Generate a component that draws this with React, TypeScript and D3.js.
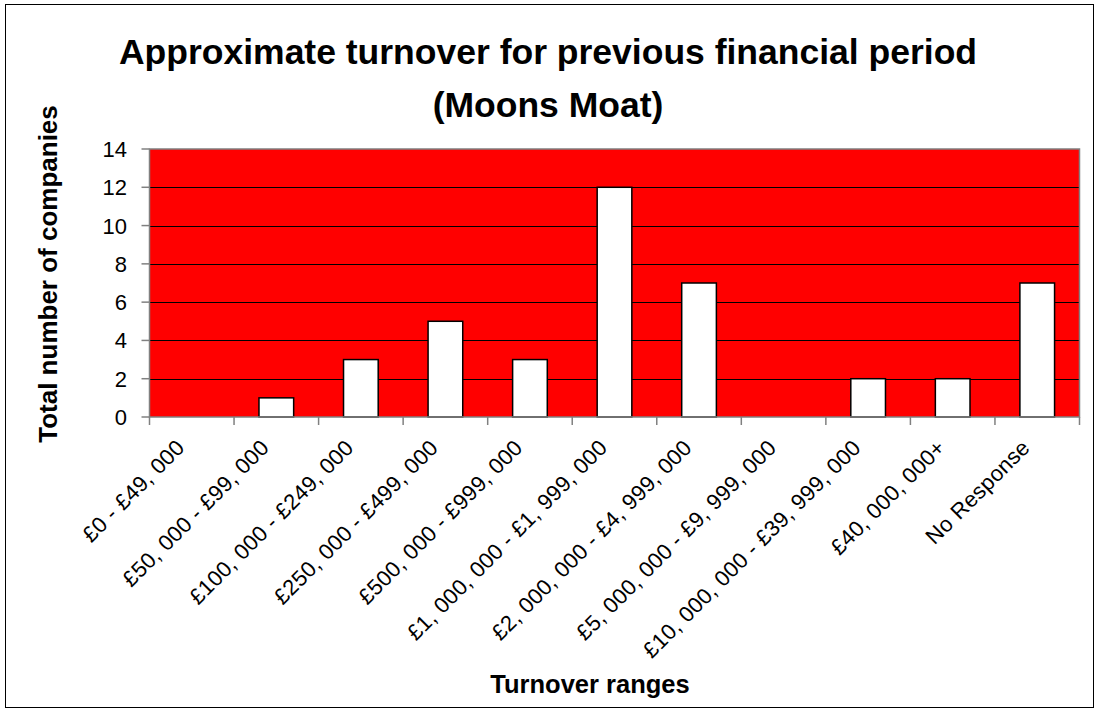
import React from 'react';
import * as d3 from 'd3';

const categories = [
  '£0 - £49, 000',
  '£50, 000 - £99, 000',
  '£100, 000 - £249, 000',
  '£250, 000 - £499, 000',
  '£500, 000 - £999, 000',
  '£1, 000, 000 - £1, 999, 000',
  '£2, 000, 000 - £4, 999, 000',
  '£5, 000, 000 - £9, 999, 000',
  '£10, 000, 000 - £39, 999, 000',
  '£40, 000, 000+',
  'No Response',
];
const counts = [0, 1, 3, 5, 3, 12, 7, 0, 2, 2, 7];
const yTicks = [0, 2, 4, 6, 8, 10, 12, 14];

const W = 1096;
const H = 709;
const font = '"Liberation Sans", Arial, sans-serif';

const App = () => {
  const left = 149.5;
  const right = 1079.5;
  const top = 149;
  const bottom = 417;

  const x = d3.scaleBand().domain(categories).range([left, right]).padding(0);
  const y = d3.scaleLinear().domain([0, 14]).range([bottom, top]);
  const barW = x.bandwidth() * 0.41;

  return (
    <svg width={W} height={H} style={{ position: 'absolute', left: 0, top: 0 }}>
      <rect x={0} y={0} width={W} height={H} fill="#fff" />
      <rect x={5.5} y={4.5} width={1088} height={703} fill="#fff" stroke="#000" strokeWidth={1} />

      <text x={548} y={64} textAnchor="middle" fontFamily={font} fontWeight="bold" fontSize={35.5}>
        Approximate turnover for previous financial period
      </text>
      <text x={548} y={117} textAnchor="middle" fontFamily={font} fontWeight="bold" fontSize={35.5}>
        (Moons Moat)
      </text>

      <rect x={left} y={top} width={right - left} height={bottom - top} fill="#ff0000" />
      {yTicks.filter(t => t > 0 && t < 14).map(t => (
        <line key={t} x1={left} x2={right} y1={Math.round(y(t)) + 0.5} y2={Math.round(y(t)) + 0.5} stroke="#000" />
      ))}

      {categories.map((c, i) => counts[i] > 0 && (
        <rect
          key={c}
          x={x(c)! + (x.bandwidth() - barW) / 2}
          y={y(counts[i])}
          width={barW}
          height={bottom - y(counts[i])}
          fill="#fff"
          stroke="#000"
          strokeWidth={1.5}
        />
      ))}

      <rect x={left} y={top} width={right - left} height={bottom - top} fill="none" stroke="#808080" strokeWidth={1.5} />

      {yTicks.map(t => (
        <g key={t}>
          <line x1={left - 8} x2={left} y1={y(t)} y2={y(t)} stroke="#808080" strokeWidth={1.5} />
          <text x={127} y={y(t) + 8} textAnchor="end" fontFamily={font} fontSize={22}>{t}</text>
        </g>
      ))}

      {[...categories.map(c => x(c)!), right].map((v, i) => (
        <line key={i} x1={v} x2={v} y1={bottom} y2={bottom + 8} stroke="#808080" strokeWidth={1.5} />
      ))}

      {categories.map(c => {
        const cx = x(c)! + x.bandwidth() / 2 - 6;
        const cy = 449;
        return (
          <text
            key={c}
            x={cx}
            y={cy}
            textAnchor="end"
            fontFamily={font}
            fontSize={22}
            letterSpacing={0.3}
            transform={`rotate(-45, ${cx}, ${cy})`}
          >
            {c}
          </text>
        );
      })}

      <text
        x={0}
        y={0}
        textAnchor="middle"
        fontFamily={font}
        fontWeight="bold"
        fontSize={26}
        transform={`translate(57, 274) rotate(-90)`}
      >
        Total number of companies
      </text>
      <text x={590} y={693} textAnchor="middle" fontFamily={font} fontWeight="bold" fontSize={25.5}>
        Turnover ranges
      </text>
    </svg>
  );
};

export default App;
